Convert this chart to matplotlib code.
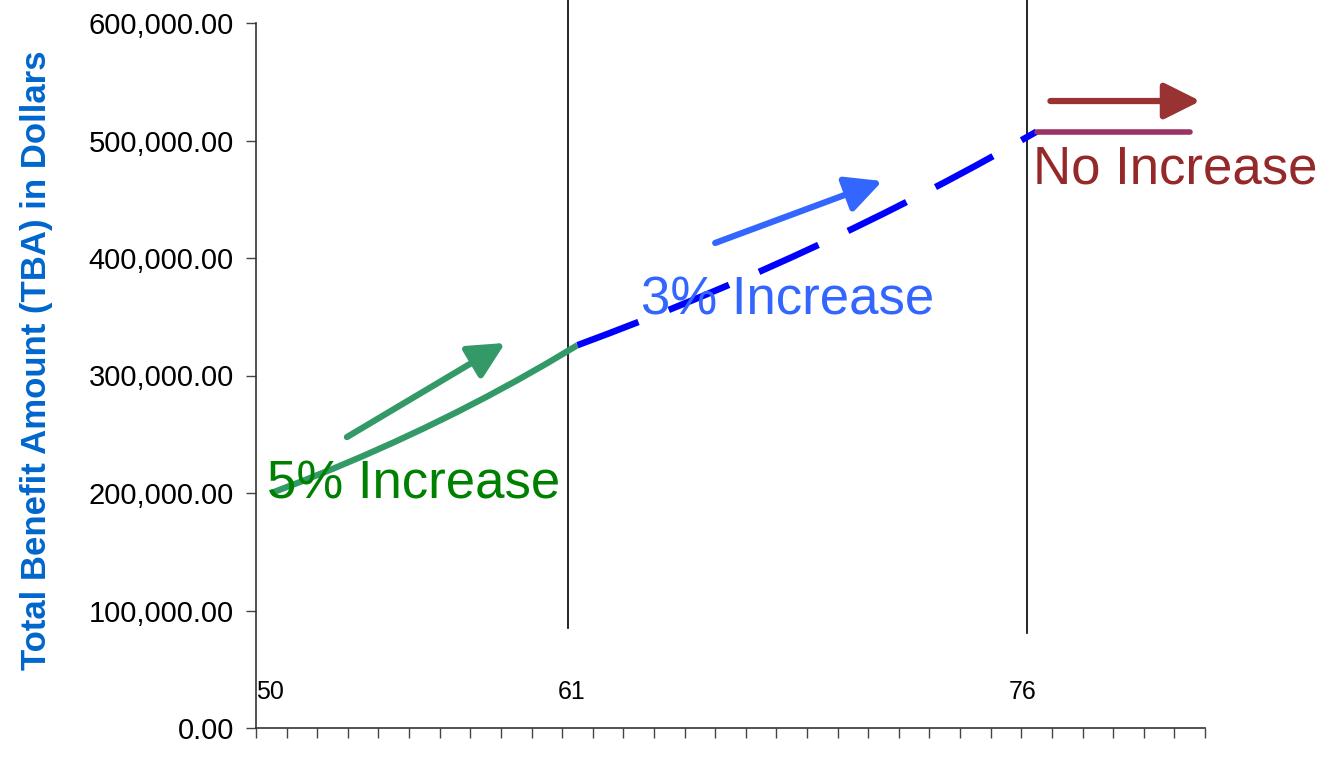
import numpy as np
import matplotlib
matplotlib.use("Agg")
import matplotlib.pyplot as plt

plt.rcParams['font.family'] = ['Liberation Sans', 'DejaVu Sans']

# ages 50..80, one category each
ages = list(range(50, 81))

# 5% phase, ages 50-60
tba_5pct = [200000, 210000, 220500, 231525, 243101, 255256, 268019, 281420,
            295491, 310266, 325779]
# 3% phase, ages 60-75
tba_3pct = [325779, 335552, 345619, 355988, 366667, 377667, 388997, 400667,
            412687, 425068, 437820, 450954, 464483, 478418, 492770, 507553]
# flat, ages 75-80
tba_flat = [507553, 507553, 507553, 507553, 507553, 507553]

age_labels = ["50", "61", "76"]
age_label_x = [-0.5, 9.8, 24.55]
divider_x = [9.7, 24.7]
divider_bottom = [85000, 81000]

yticks = [0, 100000, 200000, 300000, 400000, 500000, 600000]

# arrows (start, end) in data coords
arrows = [((2.47, 247600), (7.64, 327700), '#339966'),
          ((14.5, 412800), (19.96, 465500), '#3366FF'),
          ((25.45, 533600), (30.35, 533600), '#993333')]

fig = plt.figure(figsize=(13.36, 7.57), dpi=100)
ax = fig.add_axes([256/1336, 29/757, 949/1336, 705/757])

idx = np.arange(len(ages))
ax.plot(idx[0:11], tba_5pct, color='#339966', lw=4.5, solid_capstyle='butt', zorder=3)
ax.plot(idx[10:26], tba_3pct, color='#0000FF', lw=4.7, dashes=(10, 5), zorder=3)
ax.plot(idx[25:31], tba_flat, color='#993366', lw=4, solid_capstyle='round', zorder=3)

ax.set_xlim(-0.5, len(ages) - 0.5)
ax.set_ylim(0, 600000)

ax.set_xticks(np.arange(-0.5, len(ages), 1.0))
ax.set_xticklabels([])
ax.set_yticks(yticks)
ax.set_yticklabels(['{:,.2f}'.format(v) for v in yticks], fontsize=21)
ax.tick_params(axis='x', direction='out', length=7, width=1, color='#444444')
ax.tick_params(axis='y', direction='out', length=7, width=1, color='#444444', pad=9)

for s in ['top', 'right']:
    ax.spines[s].set_visible(False)
for s in ['left', 'bottom']:
    ax.spines[s].set_color('#333333')
    ax.spines[s].set_linewidth(1.2)

ax.set_ylabel('Total Benefit Amount (TBA) in Dollars', fontsize=25,
              fontweight='bold', color='#0066CC')
ax.yaxis.set_label_coords(-0.214, 0.522)

# age markers and dividers
for lab, xx in zip(age_labels, age_label_x):
    ha = 'left' if xx < 0 else 'center'
    ax.text(xx, 30600, lab, fontsize=18, ha=ha, va='center', color='black')
for xx, yb in zip(divider_x, divider_bottom):
    ax.plot([xx, xx], [yb, 620000], color='black', lw=1.2, clip_on=False, zorder=2)

for start, end, col in arrows:
    ax.annotate('', xy=end, xytext=start,
                arrowprops=dict(arrowstyle='-|>,head_length=1.1,head_width=0.55',
                                lw=4.5, color=col, shrinkA=0, shrinkB=0,
                                mutation_scale=20))

ax.text(-0.14, 195000, '5% Increase', fontsize=38, color='#008000', zorder=4)
ax.text(12.07, 352000, '3% Increase', fontsize=38, color='#3366FF', zorder=4)
ax.text(24.89, 463000, 'No Increase', fontsize=38, color='#952828', zorder=4)

fig.savefig('out.png', dpi=100)
